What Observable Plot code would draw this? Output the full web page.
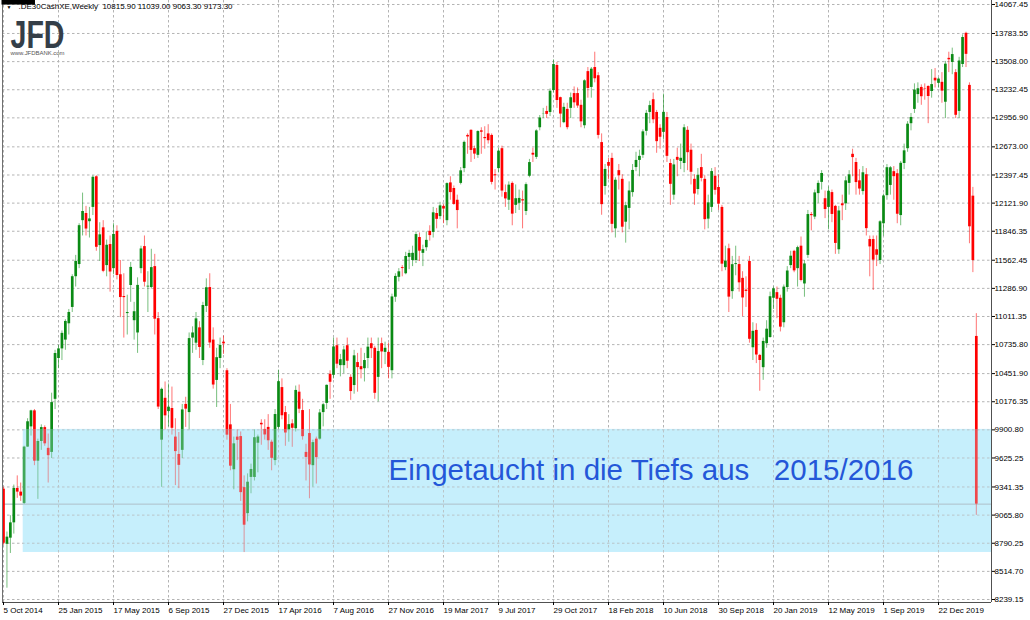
<!DOCTYPE html>
<html><head><meta charset="utf-8">
<script src="https://cdn.jsdelivr.net/npm/d3@7"></script>
<script src="https://cdn.jsdelivr.net/npm/@observablehq/plot@0.6"></script>
<style>
html,body{margin:0;padding:0;background:#fff;}
#chart{width:1030px;height:620px;overflow:hidden;}
</style></head><body><div id="chart"></div>
<script>
const symbol = ".DE30CashXE,Weekly";
const logoText = "JFD";
const logoUrl = "www.JFDBANK.com";
const annotation = "Eingetaucht in die Tiefs aus\u00a0\u00a0\u00a02015/2016";
const annotationIndex = 112;
const annotationPrice = 9500;

const xTickIndex = [0,16,32,48,64,80,96,112,128,144,160,176,192,208,224,240,256,272];
const xTickLabels = ["5 Oct 2014","25 Jan 2015","17 May 2015","6 Sep 2015","27 Dec 2015","17 Apr 2016","7 Aug 2016","27 Nov 2016","19 Mar 2017","9 Jul 2017","29 Oct 2017","18 Feb 2018","10 Jun 2018","30 Sep 2018","20 Jan 2019","12 May 2019","1 Sep 2019","22 Dec 2019"];
const yTickLabels = ["8239.15","8514.70","8790.25","9065.80","9341.35","9625.25","9900.80","10176.35","10451.90","10735.80","11011.35","11286.90","11562.45","11846.35","12121.90","12397.45","12673.00","12956.90","13232.45","13508.00","13783.55","14067.45"];

// zone of the 2015/2016 lows
const zoneLow = 8700, zoneHigh = 9905, zoneStartIndex = 5.75;

// weekly candles, week 0 = 5 Oct 2014 ... week 283 = 8 Mar 2020
const opens = [
9320,8780,8840,8990,9327,9291,9180,9732,9930,10087,
9594,9787,9923,9720,9680,10200,10600,10694,10780,10940,
11100,11401,11520,11950,12020,11940,12080,12380,11706,11880,
11510,11716,11480,11845,11420,11207,11040,11315,10970,10850,
11480,11696,11300,11295,11500,10990,9800,10210,10080,10110,
9830,9660,9700,10150,10070,10800,10750,10900,10580,11110,
11295,10780,10385,10600,10760,10480,9950,9510,9830,9835,
9335,9080,9435,9435,9770,9965,9905,9925,9780,9600,
9925,10315,10070,9900,9960,9912,10270,10090,9680,9865,
9550,9810,9810,10070,10160,10445,10435,10725,10530,10530,
10725,10415,10335,10560,10520,10500,10600,10745,10700,10415,
10745,10660,10660,10480,11200,11395,11490,11430,11590,11560,
11560,11785,11630,11685,11845,11835,12020,11990,12090,11950,
12320,12265,12150,12315,12460,12785,12835,12655,12590,12830,
12765,12800,12785,12400,12460,12655,12225,12150,12315,12100,
12120,12155,12040,12385,12610,12570,12860,12990,13020,13010,
13225,13470,13155,12910,13040,13050,13195,13195,13080,12880,
13410,13255,13450,13370,12715,12285,12520,12560,11870,12440,
12355,11935,12070,12225,12470,12540,12590,12825,13010,13135,
13010,12855,12815,12960,12510,12200,12570,12530,12510,12835,
12640,12355,12255,12470,12355,11965,12080,12385,12275,12080,
11490,11675,11255,11520,11520,11385,11270,11550,10705,10875,
10630,10510,10745,10805,11190,11245,11190,10950,11295,11510,
11650,11480,11700,11330,11610,12010,11985,12215,12325,12165,
12080,12225,12090,11665,12115,12115,12315,12600,12520,12340,
12235,12400,11765,11765,11665,11560,11920,12195,12295,12430,
12410,12000,12510,12655,12900,13040,13185,13255,13240,13265,
13215,13345,13295,13305,13110,13540,13500,13400,13020,13480,
13785,13275,12190,10815.9];
const highs = [
9340,8900,9060,9360,9450,9380,9740,10010,10093,10100,
9810,9950,9940,9860,10260,10680,10730,10870,10980,11080,
11420,11610,11920,12220,12090,12080,12390,12390,11930,11950,
11760,11800,11920,11900,11560,11430,11220,11540,11150,11390,
11700,11800,11450,11670,11620,11050,10310,10370,10350,10320,
10010,9875,10150,10220,10850,10910,11050,10960,11150,11380,
11430,10900,10700,10800,10820,10500,10150,9830,9900,9880,
9450,9470,9565,9900,9850,10000,10000,10050,9800,10100,
10486,10400,10130,10050,10000,10330,10340,10200,9760,10100,
9800,9830,10100,10160,10340,10480,10800,10800,10640,10720,
10800,10440,10680,10650,10700,10650,10800,10800,10720,10800,
10800,10760,10750,11230,11430,11480,11510,11640,11660,11700,
11840,11830,11710,11840,11900,12080,12070,12130,12110,12320,
12380,12290,12200,12470,12730,12800,12840,12680,12830,12860,
12870,12890,12800,12450,12660,12680,12300,12330,12330,12300,
12250,12240,12320,12550,12660,12840,12980,13050,13070,13240,
13525,13500,13160,13100,13100,13200,13260,13250,13130,13330,
13450,13450,13600,13400,12800,12500,12560,12610,12370,12500,
12400,12130,12330,12500,12620,12640,12840,13030,13120,13200,
13030,12890,13190,13010,12550,12550,12660,12700,12890,12870,
12700,12400,12460,12600,12390,12200,12460,12470,12400,12100,
11700,11720,11600,11700,11600,11450,11400,11600,10950,10940,
10640,10800,10970,11250,11300,11300,11220,11320,11500,11650,
11660,11700,11790,11560,12050,12030,12250,12340,12440,12240,
12280,12250,12100,12090,12200,12380,12440,12650,12560,12450,
12480,12460,11800,11800,11800,11950,12210,12500,12480,12480,
12450,12530,12700,12920,13000,13290,13300,13280,13290,13270,
13430,13440,13350,13400,13510,13600,13640,13430,13550,13770,
13796,13300,12276,11039];
const lows = [
8770,8350,8690,8880,9230,9200,9170,9730,9840,9550,
9220,9700,9740,9380,9620,10100,10500,10580,10680,10830,
11050,11300,11480,11800,11800,11780,12000,11650,11550,11440,
11400,11250,11420,11370,11000,10800,10830,11150,10780,10650,
11430,11300,11050,11280,10830,10100,9338,9900,9930,9850,
9355,9325,9620,9925,9900,10650,10680,10600,10530,11050,
10700,10300,10120,10500,10640,9800,9500,9314,9600,9200,
8699,9000,9275,9400,9480,9750,9800,9700,9500,9550,
9900,10000,9740,9780,9730,9880,10060,9800,9400,9226,
9340,9370,9800,9930,10100,10200,10400,10500,10420,10450,
10500,10190,10250,10270,10400,10370,10500,10600,10200,10175,
10500,10540,10400,10400,11150,11350,11400,11420,11470,11500,
11530,11550,11500,11650,11750,11780,11870,11960,11920,11900,
12150,12100,11870,12300,12420,12600,12520,12550,12560,12600,
12650,12700,12300,12250,12420,12180,12080,12050,11900,12020,
12050,11870,12000,12370,12520,12550,12830,12950,12950,12970,
13200,13050,12860,12900,12840,12950,13050,13050,12860,12850,
13150,13150,13300,12750,12003,12200,12350,11830,11780,12250,
11830,11730,11860,12180,12430,12380,12560,12780,12900,12900,
12610,12650,12740,12520,12100,12150,12380,12450,12420,12440,
12300,12100,12200,12330,11860,11870,12030,12200,12050,11450,
11460,11050,11180,11410,11250,11010,11100,10750,10580,10550,
10279,10386,10700,10800,11080,10990,10860,10900,11250,11480,
11440,11300,11350,11200,11580,11850,11960,12120,12250,11970,
11860,11930,11620,11620,11950,12050,12200,12380,12200,12200,
12200,11800,11400,11266,11500,11520,11800,12150,12200,12150,
11920,11900,12450,12620,12830,13000,13100,13080,13130,12900,
13150,13250,13250,13100,12950,13400,13380,12950,12950,13450,
13450,11724,11441,9063.3];
const closes = [
8790,8850,8990,9327,9291,9252,9732,9980,10087,9594,
9787,9923,9764,9648,10168,10649,10694,10846,10963,11051,
11401,11551,11901,12040,11868,11967,12375,11689,11811,11454,
11709,11447,11815,11413,11197,11196,11050,11492,11058,11316,
11673,11347,11308,11490,10985,10124,10298,10038,10123,9916,
9688,9553,10096,10104,10795,10850,10988,10708,11119,11293,
10752,10340,10608,10728,10743,9849,9545,9764,9798,9286,
8967,9388,9513,9824,9831,9950,9851,9794,9622,10051,
10373,10039,9870,9952,9916,10287,10103,9834,9631,9557,
9776,9629,10067,10147,10337,10367,10713,10544,10588,10684,
10573,10276,10626,10511,10490,10580,10711,10696,10259,10668,
10664,10700,10513,11203,11404,11449,11481,11599,11629,11630,
11814,11651,11666,11757,11804,12027,11963,12095,12064,12313,
12225,12109,12049,12438,12717,12770,12638,12602,12823,12816,
12753,12733,12325,12389,12631,12240,12163,12298,12014,12165,
12168,12143,12303,12519,12592,12829,12956,12992,12991,13218,
13479,13127,12994,13060,12861,13154,13104,13073,12918,13320,
13245,13434,13340,12785,12107,12452,12483,11914,12346,12390,
11886,12097,12241,12442,12540,12580,12820,13001,13077,12938,
12724,12767,13011,12580,12306,12496,12541,12561,12860,12616,
12424,12211,12394,12364,11960,12124,12431,12247,12112,11524,
11554,11201,11519,11529,11341,11193,11257,10788,10866,10634,
10580,10767,10887,11205,11282,11180,10907,11299,11457,11602,
11458,11686,11364,11526,12010,11999,12222,12315,12412,12059,
12238,12011,11727,12045,12096,12340,12399,12568,12323,12260,
12419,11872,11693,11563,11611,11939,12192,12469,12468,12381,
12013,12512,12634,12895,12961,13229,13242,13164,13236,13166,
13283,13319,13337,13219,13483,13526,13577,12982,13514,13744,
13579,11890,11560,9173.3];

// ---- build table ----
const candles = opens.map((o, i) => ({i, open: o, high: highs[i], low: lows[i], close: closes[i]}));
const last = candles[candles.length - 1];
const header = symbol + "  " + [last.open, last.high, last.low, last.close].map(v => v.toFixed(2)).join(" ");
const yTickValues = yTickLabels.map(Number);
const yLabelMap = new Map(yTickValues.map((v, k) => [v, yTickLabels[k]]));
const xLabelMap = new Map(xTickIndex.map((v, k) => [v, xTickLabels[k]]));

// scale geometry (one week = 3.4375 px)
const xMin = -1 / 3.4375, xMax = 988 / 3.4375;
const yMin = 8209.8, yMax = 14106.6;
const zone = [{x1: zoneStartIndex, x2: xMax, y1: zoneLow, y2: zoneHigh}];

const UP = "#0a8a14", DOWN = "#ff0000";
const col = d => d.close >= d.open ? UP : DOWN;
const font = "Liberation Sans, Arial, sans-serif";

const chart = Plot.plot({
  width: 1030, height: 620,
  marginLeft: 2, marginRight: 39, marginTop: 0, marginBottom: 18,
  x: {type: "linear", domain: [xMin, xMax], axis: null},
  y: {domain: [yMin, yMax], axis: null},
  style: {fontFamily: font, background: "#fff", overflow: "visible"},
  marks: [
    Plot.rect(zone, {x1: "x1", x2: "x2", y1: "y1", y2: "y2", fill: "#c6effc"}),
    Plot.ruleY(yTickValues, {stroke: "#b4b4b4", strokeDasharray: "2.5,2.5"}),
    Plot.ruleX(xTickIndex, {stroke: "#b4b4b4", strokeDasharray: "2.5,2.5"}),
    Plot.ruleY([last.close], {stroke: "#a3adb5"}),
    Plot.ruleX(candles, {x: "i", y1: "low", y2: "high", stroke: col, strokeOpacity: 0.55, strokeWidth: 1}),
    Plot.ruleX(candles, {x: "i", y1: "open", y2: "close", stroke: col, strokeWidth: 2.7}),
    Plot.rect(zone, {x1: "x1", x2: "x2", y1: "y1", y2: "y2", fill: "#c6effc", fillOpacity: 0.3}),
    Plot.ruleX([xMin], {stroke: "#707070"}),
    Plot.ruleX([xMax], {stroke: "#505050"}),
    Plot.ruleY([yMin], {stroke: "#505050"}),
    Plot.axisY(yTickValues, {anchor: "right", tickSize: 3, tickPadding: 0, tickFormat: d => yLabelMap.get(d),
      fontSize: 8, fill: "#000"}),
    Plot.axisX(xTickIndex, {anchor: "bottom", tickSize: 3, tickPadding: 2, tickFormat: d => xLabelMap.get(d),
      textAnchor: "start", dx: 0, fontSize: 8, fill: "#000"}),
    Plot.text([annotation], {x: annotationIndex, y: annotationPrice, text: d => d, textAnchor: "start", lineAnchor: "middle",
      fontSize: 29.5, fill: "#2457d8", fontFamily: font}),
    Plot.text([last.close], {x: xMax, y: d => d, text: d => d.toFixed(2), dx: 3, textAnchor: "start", fill: "#fff", fontSize: 8}),
    Plot.text(["\u25BC"], {frameAnchor: "top-left", dx: 4, dy: 5, textAnchor: "start", lineAnchor: "top", fontSize: 5, fill: "#000"}),
    Plot.text([header], {frameAnchor: "top-left", dx: 16, dy: 2.5, textAnchor: "start", lineAnchor: "top", fontSize: 8, fill: "#000"}),
    Plot.text([logoText], {frameAnchor: "top-left", dx: 8, dy: 20, textAnchor: "start", lineAnchor: "top",
      fontSize: 39, fontWeight: "bold", fill: "#343e48"}),
    Plot.text([logoUrl], {frameAnchor: "top-left", dx: 8, dy: 50, textAnchor: "start", lineAnchor: "top",
      fontSize: 5.9, fill: "#555"})
  ]
});
document.getElementById("chart").append(chart);

// post: black price tag box, header width, condensed logo
const svg = d3.select(chart);
svg.selectAll("text").each(function() {
  const t = this.textContent;
  if (t === last.close.toFixed(2)) {
    const b = this.getBBox();
    d3.select(this.parentNode).insert("rect", () => this)
      .attr("x", b.x - 2).attr("y", b.y - 0.5).attr("width", b.width + 4).attr("height", b.height).attr("fill", "#000");
  }
  if (t === header) {
    d3.select(this).attr("textLength", 214).attr("lengthAdjust", "spacingAndGlyphs");
  }
  if (t === logoText || t === logoUrl) {
    d3.select(this).attr("textLength", 54).attr("lengthAdjust", "spacingAndGlyphs");
  }
});
</script></body></html>
